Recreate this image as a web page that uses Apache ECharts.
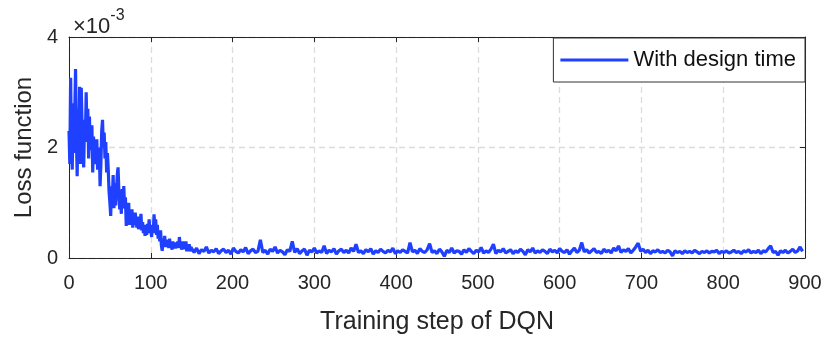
<!DOCTYPE html>
<html>
<head>
<meta charset="utf-8">
<script src="https://cdn.jsdelivr.net/npm/echarts@6/dist/echarts.min.js"></script>
<style>
  html, body { margin: 0; padding: 0; background: #fff; }
  #main { width: 830px; height: 340px; }
</style>
</head>
<body>
<div id="main"></div>
<script>
// loss values in units of 1e-3
// steps 0..149, one sample per step
var earlyLoss = [
  2.3, 1.7, 3.26, 2.0, 1.6, 2.8, 1.9, 2.6, 3.42, 2.2,
  1.48, 2.7, 2.0, 3.1, 1.7, 3.08, 2.4, 1.9, 1.64, 2.5,
  2.1, 3.0, 2.3, 2.7, 1.8, 2.56, 2.0, 1.96, 2.4, 1.55,
  2.2, 1.7, 2.1, 1.8, 2.15, 1.6, 1.75, 2.0, 1.3, 1.7,
  2.3, 2.5, 2.0, 2.27, 1.8, 2.1, 1.55, 1.9, 1.6, 1.2,
  1.0, 0.76, 1.3, 1.1, 1.5, 0.9, 1.35, 0.95, 1.2, 1.5,
  1.64, 1.2, 0.88, 1.1, 0.8, 1.25, 1.0, 1.3, 0.9, 1.1,
  0.58, 0.9, 0.75, 1.0, 0.6, 0.85, 0.7, 0.88, 0.55, 0.8,
  0.6, 0.82, 0.65, 0.55, 0.75, 0.52, 0.7, 0.6, 0.8, 0.5,
  0.65, 0.45, 0.6, 0.4, 0.55, 0.42, 0.62, 0.48, 0.7, 0.45,
  0.55, 0.38, 0.6, 0.45, 0.79, 0.5, 0.7, 0.42, 0.6, 0.35,
  0.45, 0.3, 0.5, 0.22, 0.13, 0.35, 0.25, 0.4, 0.2, 0.33,
  0.22, 0.3, 0.18, 0.35, 0.2, 0.28, 0.15, 0.3, 0.2, 0.26,
  0.17, 0.28, 0.22, 0.3, 0.18, 0.38, 0.2, 0.25, 0.15, 0.3,
  0.16, 0.26, 0.2, 0.3, 0.12, 0.22, 0.16, 0.25, 0.12, 0.2
];
// steps 150..897, one sample every 3 steps
var lateLoss = [
  0.2,
  0.1, 0.18, 0.08, 0.15, 0.12, 0.2, 0.09, 0.14, 0.11, 0.17,
  0.08, 0.13, 0.16, 0.1, 0.14, 0.07, 0.18, 0.12, 0.09, 0.15,
  0.11, 0.19, 0.08, 0.13, 0.16, 0.1, 0.12, 0.33, 0.1, 0.14,
  0.07, 0.16, 0.12, 0.2, 0.09, 0.14, 0.11, 0.06, 0.15, 0.12,
  0.3, 0.1, 0.17, 0.08, 0.13, 0.16, 0.05, 0.14, 0.11, 0.18,
  0.09, 0.13, 0.1, 0.22, 0.08, 0.14, 0.11, 0.17, 0.07, 0.13,
  0.16, 0.1, 0.14, 0.09, 0.18, 0.12, 0.25, 0.1, 0.13, 0.08,
  0.15, 0.11, 0.17, 0.07, 0.13, 0.1, 0.16, 0.12, 0.09, 0.14,
  0.11, 0.18, 0.08, 0.13, 0.1, 0.15, 0.12, 0.09, 0.28, 0.11,
  0.14, 0.08, 0.17, 0.12, 0.1, 0.15, 0.26, 0.1, 0.13, 0.08,
  0.16, 0.11, 0.03, 0.14, 0.1, 0.18, 0.09, 0.13, 0.12, 0.07,
  0.15, 0.1, 0.17, 0.12, 0.08, 0.14, 0.11, 0.19, 0.09, 0.13,
  0.1, 0.16, 0.25, 0.08, 0.14, 0.11, 0.17, 0.09, 0.12, 0.15,
  0.08, 0.13, 0.1, 0.16, 0.12, 0.06, 0.15, 0.11, 0.18, 0.09,
  0.13, 0.1, 0.15, 0.12, 0.08, 0.16, 0.11, 0.14, 0.09, 0.17,
  0.12, 0.1, 0.15, 0.07, 0.13, 0.18, 0.1, 0.14, 0.28, 0.11,
  0.15, 0.09, 0.13, 0.17, 0.1, 0.12, 0.08, 0.16, 0.11, 0.14,
  0.09, 0.18, 0.13, 0.22, 0.1, 0.15, 0.12, 0.17, 0.09, 0.14,
  0.2, 0.27, 0.12, 0.16, 0.1, 0.14, 0.08, 0.13, 0.11, 0.15,
  0.1, 0.12, 0.09, 0.14, 0.11, 0.04, 0.13, 0.1, 0.12, 0.08,
  0.13, 0.1, 0.12, 0.09, 0.14, 0.11, 0.08, 0.12, 0.1, 0.13,
  0.09, 0.12, 0.11, 0.14, 0.08, 0.12, 0.1, 0.13, 0.09, 0.11,
  0.14, 0.1, 0.12, 0.08, 0.13, 0.11, 0.15, 0.09, 0.12, 0.1,
  0.14, 0.08, 0.13, 0.11, 0.17, 0.22, 0.1, 0.12, 0.05, 0.13,
  0.1, 0.14, 0.09, 0.12, 0.16, 0.1, 0.13, 0.2, 0.12
];
var lateStart = 150;
var lateStep = 3;
var xTicks = [0, 900, 100];
var yTicks = [0, 4, 2];
var seriesName = 'With design time';

var points = earlyLoss.map(function (v, i) { return [i, v]; })
  .concat(lateLoss.map(function (v, i) { return [lateStart + i * lateStep, v]; }));

var font = '"Liberation Sans", Arial, Helvetica, sans-serif';
var axisColor = '#262626';
var txtColor = '#262626';
var gridLine = { show: true, lineStyle: { color: '#dcdcdc', type: [6, 4], width: 1.3 } };

var chart = echarts.init(document.getElementById('main'), null, { renderer: 'canvas' });
chart.setOption({
  animation: false,
  backgroundColor: '#fff',
  textStyle: { fontFamily: font },
  grid: { left: 69, right: 25, top: 37, bottom: 81 },
  title: {
    left: 68, top: 3,
    text: '{a|×10}{b|-3}',
    textStyle: {
      rich: {
        a: { fontFamily: font, fontSize: 22, fontWeight: 'normal', color: txtColor, verticalAlign: 'bottom', padding: [8, 0, 0, 0] },
        b: { fontFamily: font, fontSize: 16, fontWeight: 'normal', color: txtColor, verticalAlign: 'top', padding: [0, 0, 10, 0] }
      }
    }
  },
  legend: {
    right: 25, top: 38,
    data: [{ name: seriesName, icon: 'rect' }],
    itemWidth: 68, itemHeight: 3, itemGap: 6,
    padding: [11, 9, 11, 7],
    borderColor: '#333', borderWidth: 1, backgroundColor: '#fff',
    textStyle: { fontFamily: font, fontSize: 22, color: '#111' }
  },
  xAxis: [{
    type: 'value', min: xTicks[0], max: xTicks[1], interval: xTicks[2],
    name: 'Training step of DQN', nameLocation: 'middle', nameGap: 52,
    nameTextStyle: { fontFamily: font, fontSize: 25, color: txtColor },
    axisLine: { show: true, onZero: false, lineStyle: { color: axisColor } },
    axisTick: { show: true, inside: true, length: 5, lineStyle: { color: axisColor } },
    axisLabel: { fontFamily: font, fontSize: 20, color: txtColor, margin: 15 },
    splitLine: gridLine
  }, {
    type: 'value', position: 'top', min: xTicks[0], max: xTicks[1], interval: xTicks[2],
    axisLine: { show: true, onZero: false, lineStyle: { color: axisColor } },
    axisTick: { show: true, inside: true, length: 5, lineStyle: { color: axisColor } },
    axisLabel: { show: false }, splitLine: { show: false }
  }],
  yAxis: [{
    type: 'value', min: yTicks[0], max: yTicks[1], interval: yTicks[2],
    name: 'Loss function', nameLocation: 'middle', nameGap: 32,
    nameTextStyle: { fontFamily: font, fontSize: 24, color: txtColor },
    axisLine: { show: true, onZero: false, lineStyle: { color: axisColor } },
    axisTick: { show: true, inside: true, length: 5, lineStyle: { color: axisColor } },
    axisLabel: { fontFamily: font, fontSize: 20, color: txtColor, margin: 11 },
    splitLine: gridLine
  }, {
    type: 'value', position: 'right', min: yTicks[0], max: yTicks[1], interval: yTicks[2],
    axisLine: { show: true, onZero: false, lineStyle: { color: axisColor } },
    axisTick: { show: true, inside: true, length: 5, lineStyle: { color: axisColor } },
    axisLabel: { show: false }, splitLine: { show: false }
  }],
  series: [{
    name: seriesName,
    type: 'line',
    data: points,
    showSymbol: false,
    symbol: 'none',
    lineStyle: { color: '#2040ff', width: 3.2 },
    itemStyle: { color: '#2040ff' }
  }]
});
</script>
</body>
</html>
